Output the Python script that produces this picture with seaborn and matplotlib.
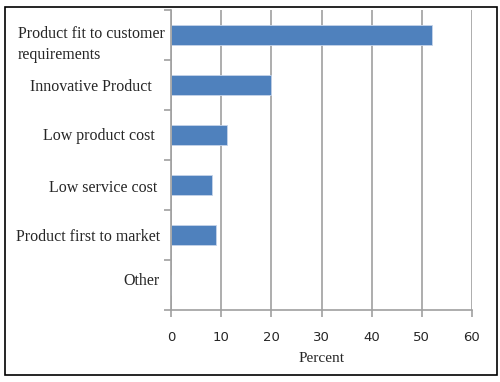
import matplotlib
matplotlib.use("Agg")
import matplotlib.pyplot as plt
import matplotlib.transforms as mtransforms
import seaborn as sns
import pandas as pd
import numpy as np
from matplotlib.patches import Rectangle

categories = ["Product fit to customer\nrequirements", "Innovative Product", "Low product cost",
              "Low service cost", "Product first to market", "Other"]
values = [52, 20, 11.2, 8.2, 9, 0]
xticks = [0, 10, 20, 30, 40, 50, 60]

df = pd.DataFrame({"cat": categories, "val": values})

sns.set_style("white")
plt.rcParams['font.family'] = ['Liberation Serif', 'DejaVu Serif']

fig = plt.figure(figsize=(5, 3.82), dpi=100)
ax = fig.add_axes([0.342, 0.188, 0.602, 0.786])

sns.barplot(data=df, y="cat", x="val", orient="h", color="#4F81BD", width=0.4,
            saturation=1, ax=ax, edgecolor="#C6D4EA", linewidth=0.6)

ax.set_xlim(0, 60)
ax.set_ylim(5.5, -0.5)
ax.set_xticks(xticks)
ax.set_xticklabels([str(t) for t in xticks], family="DejaVu Sans", fontsize=9.5)
ax.grid(axis="x", color="#A0A0A0", linewidth=1.2)
ax.set_axisbelow(True)
ax.set_ylabel("")
ax.set_xlabel("Percent", fontsize=11, labelpad=6)

for s in ["top", "right"]:
    ax.spines[s].set_visible(False)
for s in ["left", "bottom"]:
    ax.spines[s].set_color("#A0A0A0")
    ax.spines[s].set_linewidth(1.2)

ax.tick_params(axis="y", which="major", left=False, length=0, pad=8, labelsize=11.5)
ax.set_yticks(np.arange(-0.5, 6, 1), minor=True)
ax.tick_params(axis="y", which="minor", left=True, length=5, color="#A0A0A0", width=1.2, direction="out")
ax.tick_params(axis="x", which="major", bottom=True, length=5, color="#A0A0A0", width=1.2,
               direction="out", pad=10)

lbls = ax.get_yticklabels()
lbls[0].set_multialignment("left")
lbls[0].set_linespacing(1.4)
offsets = [(5, -5), (-8, 0), (-5, 1), (-3, -1), (0, 0), (0, 6)]
for lbl, (dx, dy) in zip(lbls, offsets):
    lbl.set_transform(lbl.get_transform() + mtransforms.ScaledTranslation(dx / 100, dy / 100, fig.dpi_scale_trans))

fig.patches.append(Rectangle((5/500, 1-375/382), 492/500, 368/382, transform=fig.transFigure,
                             fill=False, edgecolor="black", linewidth=1.2))

fig.savefig("out.png", dpi=100)
